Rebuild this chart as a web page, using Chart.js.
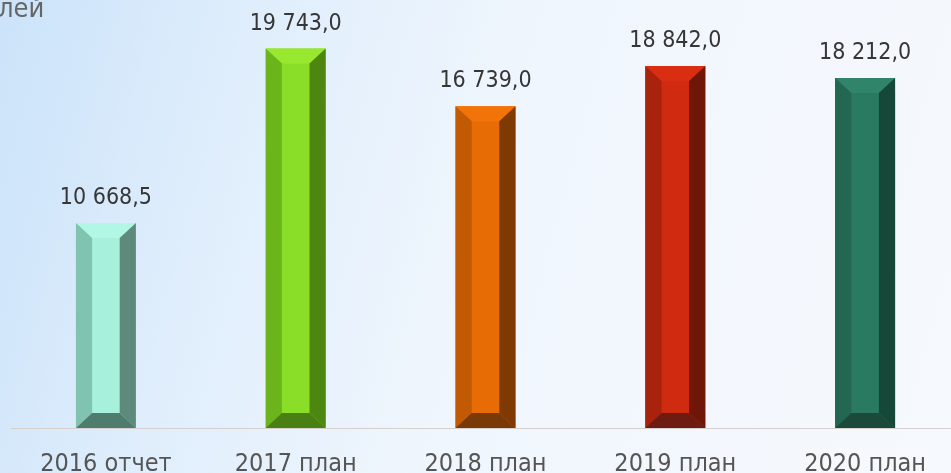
<!DOCTYPE html>
<html>
<head>
<meta charset="utf-8">
<script src="https://cdn.jsdelivr.net/npm/chart.js@4.4.1/dist/chart.umd.min.js"></script>
<style>
  html, body { margin: 0; padding: 0; overflow: hidden; }
  body {
    width: 951px; height: 473px;
    background: linear-gradient(105deg, #cbe3f9 0%, #e0eefc 25%, #f0f6fd 52%, #f6f9fd 100%);
  }
  #wrap { position: relative; width: 960px; height: 473px; }
</style>
</head>
<body>
<div id="wrap"><canvas id="chart" width="960" height="473"></canvas></div>
<script>
const FONT = "'Liberation Sans Narrow', 'DejaVu Sans Condensed', 'Noto Sans', sans-serif";

// data
const categories = ['2016 отчет', '2017 план', '2018 план', '2019 план', '2020 план'];
const values = [10668.5, 19743.0, 16739.0, 18842.0, 18212.0];
const unitLabel = 'лей';

// bar colours: front, top, left, right, bottom
const frontColors = ['#a6f0dc', '#8ade28', '#e86c06', '#d02a10', '#2a7a62'];
const topColors = ['#b2f7e6', '#98e830', '#f27408', '#da2e12', '#2f846a'];
const leftColors = ['#80c4b0', '#6cb41c', '#c25a04', '#a8220c', '#236652'];
const rightColors = ['#5e8a7b', '#4e8710', '#7e3a02', '#701608', '#16483a'];
const bottomColors = ['#4f7d6d', '#4a7f14', '#7a3a08', '#6e1c12', '#1c4a3a'];

function fmt(v) {
  const parts = v.toFixed(1).split('.');
  const int = parts[0].replace(/\B(?=(\d{3})+(?!\d))/g, ' ');
  return int + ',' + parts[1];
}

// draws the bevel faces on top of each bar
const bevelPlugin = {
  id: 'bevel',
  afterDatasetsDraw(chart) {
    const ctx = chart.ctx;
    const meta = chart.getDatasetMeta(0);
    meta.data.forEach((bar, i) => {
      const l = bar.x - bar.width / 2, r = bar.x + bar.width / 2;
      const t = bar.y, b = bar.base;
      const bw = bar.width * 0.27, bh = 15;
      const poly = (pts, c) => {
        ctx.beginPath();
        ctx.moveTo(pts[0][0], pts[0][1]);
        pts.slice(1).forEach(p => ctx.lineTo(p[0], p[1]));
        ctx.closePath();
        ctx.fillStyle = c;
        ctx.fill();
      };
      ctx.save();
      poly([[l, t], [r, t], [r - bw, t + bh], [l + bw, t + bh]], topColors[i]);
      poly([[l, t], [l + bw, t + bh], [l + bw, b - bh], [l, b]], leftColors[i]);
      poly([[r, t], [r, b], [r - bw, b - bh], [r - bw, t + bh]], rightColors[i]);
      poly([[l, b], [l + bw, b - bh], [r - bw, b - bh], [r, b]], bottomColors[i]);
      ctx.restore();
    });
  },
  afterDraw(chart) {
    const ctx = chart.ctx;
    const meta = chart.getDatasetMeta(0);
    ctx.save();
    ctx.font = '23px ' + FONT;
    ctx.fillStyle = '#363636';
    ctx.textAlign = 'center';
    ctx.textBaseline = 'middle';
    meta.data.forEach((bar, i) => {
      ctx.fillText(fmt(values[i]), bar.x, bar.y - 25);
    });
    ctx.font = '27px ' + FONT;
    ctx.fillStyle = '#666666';
    ctx.textAlign = 'left';
    ctx.textBaseline = 'alphabetic';
    ctx.fillText(unitLabel, -2, 17);
    ctx.restore();
  }
};

new Chart(document.getElementById('chart'), {
  type: 'bar',
  data: {
    labels: categories,
    datasets: [{
      data: values,
      backgroundColor: frontColors,
      borderWidth: 0,
      categoryPercentage: 1,
      barPercentage: 0.316,
    }],
  },
  options: {
    responsive: false,
    animation: false,
    layout: { padding: { left: 11, right: 0, top: 0, bottom: 0 } },
    plugins: { legend: { display: false }, tooltip: { enabled: false } },
    scales: {
      x: {
        grid: { display: false, drawTicks: false },
        border: { display: true, color: '#d6d0cc', width: 1 },
        ticks: { font: { family: FONT, size: 25 }, color: '#555555', padding: 21 },
        afterFit: (s) => { s.height = 45; },
      },
      y: {
        display: false,
        min: 0,
        max: 22270,
      },
    },
  },
  plugins: [bevelPlugin],
});
</script>
</body>
</html>
